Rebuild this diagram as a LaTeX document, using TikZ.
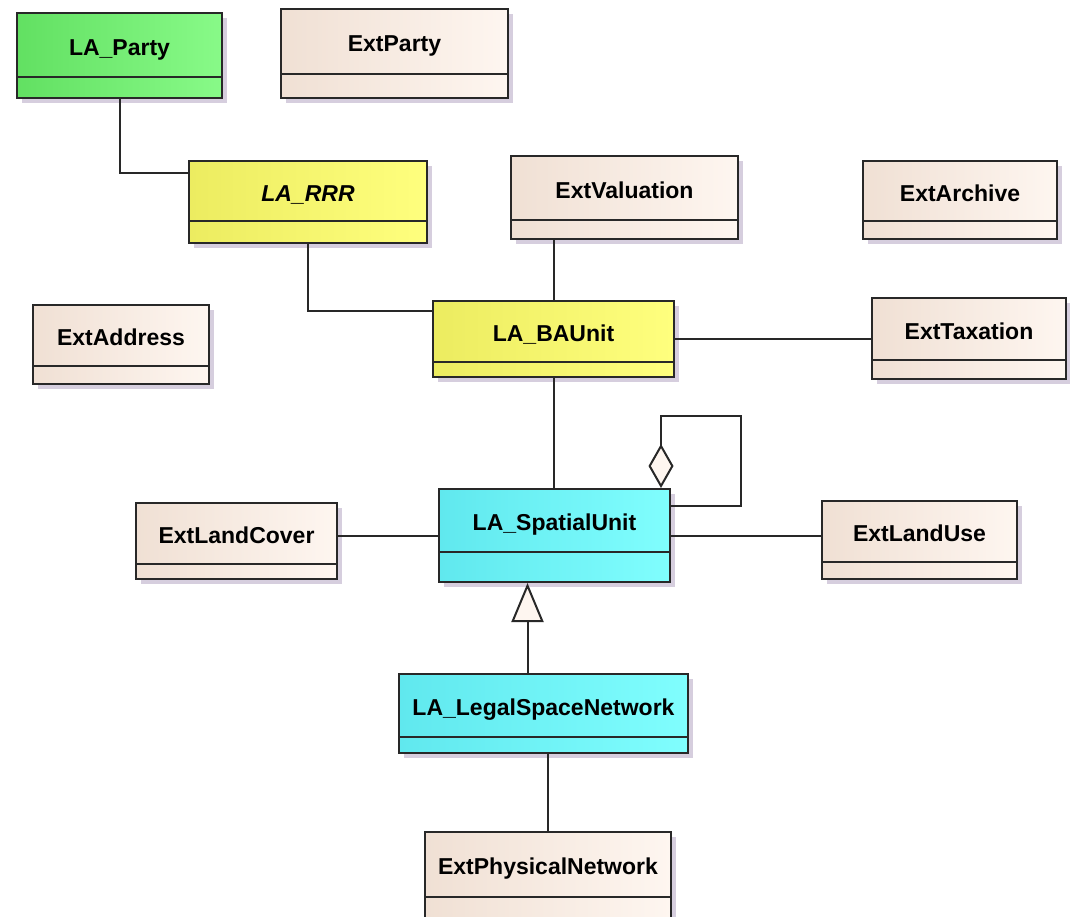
\documentclass[tikz,border=0pt]{standalone}
\usepackage{fontspec}
\setmainfont{Liberation Sans}
\usepackage{tikz}
\usetikzlibrary{arrows.meta,shadows,calc}

\definecolor{partyL}{RGB}{98,224,98}
\definecolor{partyR}{RGB}{136,250,136}
\definecolor{rrrL}{RGB}{236,236,96}
\definecolor{rrrR}{RGB}{255,255,126}
\definecolor{suL}{RGB}{96,232,238}
\definecolor{suR}{RGB}{128,254,254}
\definecolor{extL}{RGB}{240,224,212}
\definecolor{extR}{RGB}{254,246,240}
\definecolor{shadowgray}{RGB}{214,206,222}
\definecolor{umlline}{RGB}{40,40,40}

\tikzset{
  clsbox/.style n args = {3}{rectangle, draw=umlline, line width=1pt,
                       minimum width=#1, minimum height=#2, inner sep=0pt,
                       text height=10pt, text depth=#3,
                       font=\fontsize{11.5}{13}\selectfont\bfseries,
                       drop shadow={shadow xshift=2.5pt, shadow yshift=-2.5pt,
                                    fill=shadowgray, opacity=1},
                       path picture={\draw[umlline, line width=1pt]
                         ([yshift=#3]path picture bounding box.south west) --
                         ([yshift=#3]path picture bounding box.south east);}},
  clsparty/.style   = {left color=partyL, middle color=partyR, right color=partyR},
  clsrrr/.style     = {left color=rrrL, middle color=rrrR, right color=rrrR},
  clssu/.style      = {left color=suL, middle color=suR, right color=suR},
  clsext/.style     = {left color=extL, middle color=extR, right color=extR},
  assoc/.style      = {draw=umlline, line width=1pt},
  aggr/.style       = {assoc, {Diamond[length=22pt, width=12.5pt, fill=extR]}-},
  generalize/.style = {assoc, -{Triangle[length=19.5pt, width=16pt, fill=extR]}},
}

\begin{document}
\begin{tikzpicture}[x=0.5pt, y=-0.5pt]
  \clip (0,0) rectangle (1070,916);
  \fill[white] (0,0) rectangle (1070,916);

  \node[clsbox={102.5pt}{42.5pt}{10.5pt}, clsparty] (party)     at (119.5,55.5) {LA\_Party};
  \node[clsbox={113.5pt}{44.5pt}{12pt},   clsext]   (extparty)  at (394.5,53.5) {ExtParty};
  \node[clsbox={119pt}{41pt}{11pt},       clsrrr]   (rrr)       at (308,202)    {\itshape LA\_RRR};
  \node[clsbox={113.5pt}{41.5pt}{9.5pt},  clsext]   (extval)    at (624.5,197.5){ExtValuation};
  \node[clsbox={97pt}{39pt}{9pt},         clsext]   (archive)   at (960,200)    {ExtArchive};
  \node[clsbox={88pt}{39.5pt}{9pt},       clsext]   (address)   at (121,344.5)  {ExtAddress};
  \node[clsbox={120.5pt}{38pt}{7.5pt},    clsrrr]   (bau)       at (553.5,339)  {LA\_BAUnit};
  \node[clsbox={97pt}{40.5pt}{9.5pt},     clsext]   (taxation)  at (969,338.5)  {ExtTaxation};
  \node[clsbox={100.5pt}{38pt}{7.5pt},    clsext]   (landcover) at (236.5,541)  {ExtLandCover};
  \node[clsbox={115.5pt}{46.5pt}{15pt},   clssu]    (spatial)   at (554.5,535.5){LA\_SpatialUnit};
  \node[clsbox={97.5pt}{39pt}{8.5pt},     clsext]   (landuse)   at (919.5,540)  {ExtLandUse};
  \node[clsbox={144.5pt}{39.5pt}{8pt},    clssu]    (legal)     at (543.5,713.5){LA\_LegalSpaceNetwork};
  \node[clsbox={123pt}{44pt}{11.5pt},     clsext]   (physnet)   at (548,876)    {ExtPhysicalNetwork};

  % associations
  \draw[assoc] (party.south) |- ([yshift=-6.5pt]rrr.north west);
  \draw[assoc] (rrr.south) |- ([yshift=-5.5pt]bau.north west);
  \draw[assoc] (bau.north) -- (bau.north |- extval.south);
  \draw[assoc] (bau.east) -- (bau.east -| taxation.west);
  \draw[assoc] (bau.south) -- (bau.south |- spatial.north);
  \draw[assoc] (spatial.west) -- (spatial.west -| landcover.east);
  \draw[assoc] (spatial.east) -- (spatial.east -| landuse.west);
  \draw[assoc] (physnet.north |- legal.south) -- (physnet.north);

  % aggregation loop and generalization
  \draw[aggr] ([xshift=-5pt]spatial.north east) -- ++(0,-72)
              -| ([xshift=35pt,yshift=-9pt]spatial.north east)
              -- ([yshift=-9pt]spatial.north east);
  \coordinate (gtip) at ([xshift=-13.5pt]spatial.south);
  \draw[generalize] (gtip |- legal.north) -- (gtip);
\end{tikzpicture}
\end{document}
